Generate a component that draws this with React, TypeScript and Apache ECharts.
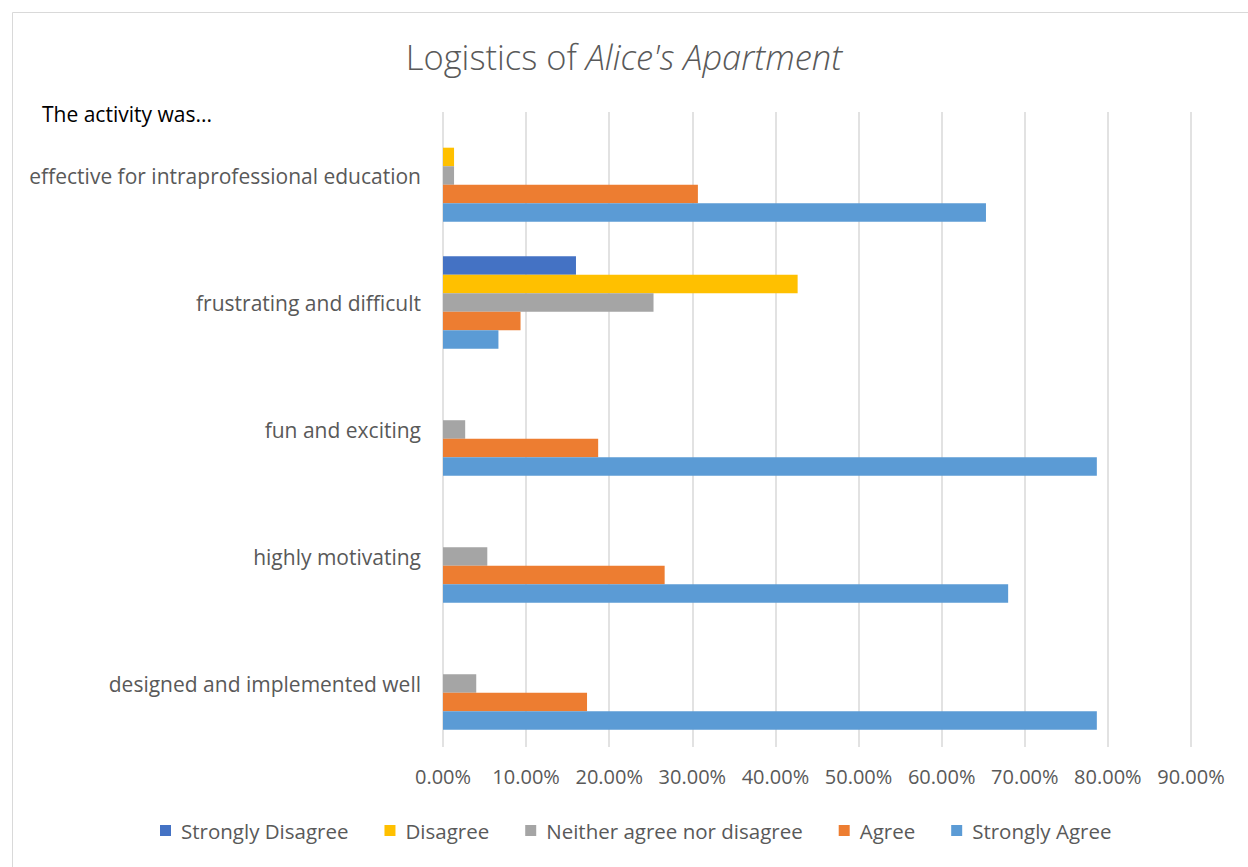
import React, { useEffect, useRef } from "react";
import * as echarts from "echarts";

const categories = [
  "designed and implemented well",
  "highly motivating",
  "fun and exciting",
  "frustrating and difficult",
  "effective for intraprofessional education",
];
const seriesNames = [
  "Strongly Disagree",
  "Disagree",
  "Neither agree nor disagree",
  "Agree",
  "Strongly Agree",
];
const stronglyDisagree = [0, 0, 0, 0.16, 0];
const disagree = [0, 0, 0, 0.4267, 0.0133];
const neither = [0.04, 0.0533, 0.0267, 0.2533, 0.0133];
const agree = [0.1733, 0.2667, 0.1867, 0.0933, 0.3067];
const stronglyAgree = [0.7867, 0.68, 0.7867, 0.0667, 0.6533];
const colors = ["#4472C4", "#FFC000", "#A5A5A5", "#ED7D31", "#5B9BD5"];
const xTicks = [0, 0.1, 0.2, 0.3, 0.4, 0.5, 0.6, 0.7, 0.8, 0.9];

const FONT = "Open Sans";

export default function App() {
  const ref = useRef<HTMLDivElement>(null);
  useEffect(() => {
    if (!ref.current) return;
    const chart = echarts.init(ref.current, null, { renderer: "svg" });
    const values = [stronglyDisagree, disagree, neither, agree, stronglyAgree];
    chart.setOption({
      animation: false,
      backgroundColor: "#ffffff",
      textStyle: { fontFamily: FONT },
      title: {
        text: "{n|Logistics of }{i|Alice's Apartment}",
        left: "center",
        top: 34,
        textStyle: {
          rich: {
            n: { fontFamily: FONT, fontSize: 34.5, fontWeight: 300, color: "#595959" },
            i: { fontFamily: FONT, fontSize: 34.5, fontWeight: 300, fontStyle: "italic", color: "#595959" },
          },
        },
      },
      graphic: [
        {
          type: "rect",
          shape: { x: 12.5, y: 12.5, width: 1260, height: 880 },
          style: { fill: "none", stroke: "#d9d9d9", lineWidth: 1 },
          silent: true,
        },
        {
          type: "text",
          x: 42,
          y: 103,
          style: { text: "The activity was...", font: `21px '${FONT}'`, fill: "#000000" },
        },
      ],
      legend: {
        data: seriesNames,
        top: 815,
        left: 155,
        icon: "rect",
        itemWidth: 11,
        itemHeight: 11,
        itemGap: 36,
        formatter: (name: string) => "{t|" + name + "}",
        textStyle: {
          fontFamily: FONT,
          fontSize: 20.5,
          color: "#595959",
          rich: { t: { fontFamily: FONT, fontSize: 20.5, color: "#595959", padding: [0, 0, 0, 5] } },
        },
      },
      grid: { left: 443, right: 57, top: 112, bottom: 120, containLabel: false },
      xAxis: {
        type: "value",
        min: xTicks[0],
        max: xTicks[xTicks.length - 1],
        interval: 0.1,
        axisLine: { show: false },
        axisTick: { show: false },
        splitLine: { show: true, lineStyle: { color: "#d9d9d9", width: 1.5 } },
        axisLabel: {
          formatter: (v: number) => (v * 100).toFixed(2) + "%",
          fontFamily: FONT,
          fontSize: 20,
          color: "#595959",
          margin: 19,
        },
      },
      yAxis: {
        type: "category",
        data: categories,
        axisLine: { show: false },
        axisTick: { show: false },
        axisLabel: { fontFamily: FONT, fontSize: 21, color: "#595959", margin: 22 },
      },
      series: values.map((vals, i) => ({
        name: seriesNames[i],
        type: "bar",
        data: vals,
        itemStyle: { color: colors[i] },
        barGap: "0%",
        barCategoryGap: "27%",
      })),
    });
    return () => chart.dispose();
  }, []);
  return (
    <div
      ref={ref}
      style={{ position: "fixed", left: 0, top: 0, width: 1248, height: 867 }}
    />
  );
}
